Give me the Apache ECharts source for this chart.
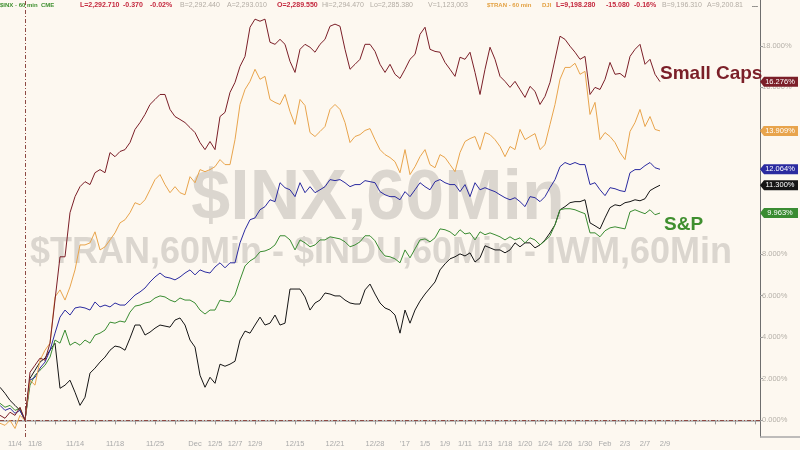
<!DOCTYPE html>
<html>
<head>
<meta charset="utf-8">
<script src="https://cdn.jsdelivr.net/npm/echarts@6/dist/echarts.min.js"></script>
<style>html,body{margin:0;padding:0;background:#fdf8f0;}#c{width:800px;height:450px;}</style>
</head>
<body>
<div id="c"></div>
<script>
// ---- data (percent change vs base bar, hourly bars) ----
var iwm = [
0.24,0.10,0.39,0.24,0.63,0.00,2.31,2.65,2.99,2.89,
3.71,5.78,7.86,7.86,9.98,10.75,11.23,11.47,11.33,11.90,
12.05,11.90,12.87,12.67,12.92,13.01,13.35,13.98,14.31,14.70,
15.18,15.42,15.66,15.66,14.94,14.60,14.46,14.31,14.07,13.83,
13.35,13.01,13.40,13.01,14.60,14.80,15.76,16.24,17.01,17.49,
18.89,19.28,19.18,19.28,18.17,18.07,18.31,18.07,17.25,16.72,
17.83,18.07,17.93,17.69,18.07,18.31,18.94,19.04,18.94,17.83,
16.87,17.11,17.35,18.07,18.07,17.73,17.11,16.72,17.11,16.63,
16.43,16.87,17.35,17.59,18.55,18.89,17.83,17.73,17.69,17.20,
16.87,16.53,17.45,17.35,17.69,16.72,15.66,16.87,17.93,17.35,
16.53,16.29,16.00,16.29,15.90,15.52,16.05,15.81,15.18,15.57,
16.24,17.35,18.46,18.31,17.98,17.69,17.35,17.49,15.66,16.00,
15.90,16.39,17.20,16.63,16.67,16.48,17.49,17.83,18.07,17.11,
17.35,16.63,16.276];
var tran = [
-0.14,-0.24,0.00,-0.39,0.24,0.00,1.93,1.69,2.89,3.37,
3.71,5.93,6.27,5.78,6.41,7.23,8.43,8.43,8.53,9.06,
8.19,8.34,8.67,9.01,9.49,9.64,9.98,10.46,10.36,10.60,
11.08,11.57,11.81,11.33,10.94,11.23,10.94,10.84,11.71,11.42,
12.05,11.95,12.05,12.19,12.53,12.29,12.29,13.49,15.18,15.90,
16.29,16.87,16.39,16.53,15.42,15.28,15.18,15.66,14.84,14.22,
15.42,15.13,13.83,13.64,13.88,14.12,14.94,15.18,14.94,14.31,
13.35,13.64,13.73,13.93,14.02,13.49,13.01,12.77,12.63,12.43,
11.90,13.01,11.81,12.19,12.67,13.01,12.29,12.14,12.77,12.63,
12.29,11.95,12.87,13.40,13.54,13.64,13.01,13.83,13.73,13.49,
13.16,12.67,13.16,13.01,13.98,13.49,13.64,13.78,13.01,13.25,
14.22,15.18,16.39,16.96,16.96,17.16,16.63,16.77,14.70,15.28,
13.49,13.83,13.64,13.35,12.87,12.53,13.88,14.31,14.94,14.12,
14.60,13.98,13.909];
var indu = [
0.72,0.48,0.58,0.34,0.48,0.00,1.93,2.07,2.51,2.80,
3.37,4.19,4.96,5.30,5.06,5.40,5.45,5.40,5.30,5.69,
5.45,5.54,5.45,5.64,5.54,5.54,5.78,6.02,6.17,6.36,
6.65,6.89,7.08,6.89,6.84,6.75,6.89,7.08,7.23,6.99,
7.23,7.13,7.08,7.37,7.57,7.33,7.57,7.57,8.53,9.16,
9.64,9.73,10.12,10.27,10.60,10.51,11.42,11.18,11.08,10.75,
11.42,10.94,11.23,10.94,11.08,11.23,11.57,11.52,11.57,11.42,
11.23,11.33,11.33,11.52,11.47,11.42,10.99,10.84,10.75,10.75,
10.60,10.99,10.75,11.08,11.42,11.23,11.08,11.47,11.57,11.42,
11.33,11.33,10.99,11.33,10.75,11.42,11.08,11.18,11.08,10.99,
10.84,10.70,10.60,10.70,10.51,10.27,10.75,10.70,10.51,10.75,
11.18,11.57,12.19,12.39,12.29,12.39,12.29,12.29,11.33,11.42,
11.08,10.80,11.18,11.13,11.04,10.99,11.90,12.05,12.05,12.24,
12.39,12.14,12.064];
var compq = [
1.59,1.30,0.96,0.72,0.48,0.00,2.02,2.41,2.80,2.99,
3.37,3.71,1.54,1.69,1.93,1.35,0.72,1.11,2.27,2.51,
2.80,3.04,3.37,3.57,3.52,3.37,3.95,4.58,4.58,4.10,
4.24,4.43,4.58,4.53,4.48,4.82,4.92,4.58,3.86,3.52,
2.17,1.59,2.07,1.78,2.70,2.60,2.70,2.84,3.86,4.29,
4.19,4.58,4.96,4.58,4.67,5.06,4.58,4.67,6.31,6.31,
6.31,5.93,5.30,5.64,5.78,6.12,6.07,5.98,5.98,5.78,
5.64,5.59,5.59,6.27,6.55,6.07,5.64,5.40,5.30,5.06,
4.19,5.30,4.67,5.30,5.73,6.07,6.36,6.65,7.23,7.52,
7.76,7.86,8.00,7.90,8.05,7.61,7.81,8.39,8.29,8.19,
8.19,8.05,8.19,8.53,8.34,8.53,8.53,8.29,8.43,8.67,
9.01,9.40,10.12,10.27,10.46,10.51,10.51,10.60,9.49,9.35,
9.20,9.73,10.22,10.36,10.31,10.46,10.51,10.60,10.55,10.65,
11.04,11.18,11.300];
var spx = [
0.82,0.63,0.72,0.48,0.58,0.00,1.69,2.17,2.41,2.65,
3.04,3.86,3.71,4.34,3.61,3.76,3.61,3.86,3.71,4.10,
4.19,4.34,4.72,4.67,4.77,4.72,5.20,5.49,5.54,5.64,
5.69,5.88,5.98,5.93,5.78,5.69,5.88,5.78,5.78,5.64,
5.30,5.11,5.30,5.30,5.78,5.73,5.69,6.02,6.75,7.42,
7.66,7.81,8.10,8.14,8.24,8.43,8.87,8.87,8.67,8.19,
8.67,8.53,8.34,8.43,8.67,8.67,8.82,8.77,8.72,8.58,
8.34,8.43,8.58,8.87,8.87,8.63,8.19,7.90,7.86,7.76,
7.57,8.19,7.81,8.24,8.67,8.72,8.58,8.77,9.20,9.16,
9.06,8.87,9.16,8.96,9.01,8.67,9.06,8.92,9.01,8.92,
8.82,8.67,8.82,8.67,8.77,8.53,8.77,8.67,8.43,8.63,
8.87,9.40,10.12,10.17,10.17,10.12,10.02,9.93,9.01,9.01,
8.82,9.11,9.25,9.30,9.25,9.20,10.02,10.12,10.02,9.93,
10.12,9.88,9.963];

var seriesNames = ['$COMPQ', '$INX', '$INDU', '$TRAN', 'IWM'];
var lastValues = [11.300, 9.963, 12.064, 13.909, 16.276];

// x axis: hourly bar slots; date labels at given bar slots
var slotCount = 153;
var baseSlot = 5;
var xTickLabels = ['11/4','11/8','11/14','11/18','11/25','Dec','12/5','12/7','12/9','12/15','12/21','12/28',"'17",
  '1/5','1/9','1/11','1/13','1/18','1/20','1/24','1/26','1/30','Feb','2/3','2/7','2/9'];
var xTickSlots = [3,7,15,23,31,39,43,47,51,59,67,75,81,85,89,93,97,101,105,109,113,117,121,125,129,133];
var yTickValues = [0,2,4,6,8,10,12,14,16,18];

var categories = [];
for (var i = 0; i < slotCount; i++) categories.push(String(i));
var labelAt = {};
xTickSlots.forEach(function (s, k) { labelAt[s] = xTickLabels[k]; });

var colors = ['#151515', '#3a8c32', '#2b2ba0', '#e8a44c', '#7b1f28'];
var dataSets = [compq, spx, indu, tran, iwm];

var FONT = '"Liberation Sans", Arial, sans-serif';
var series = dataSets.map(function (d, k) {
  var s = {
    name: seriesNames[k],
    type: 'line',
    data: d,
    showSymbol: false,
    symbol: 'none',
    lineStyle: { width: 1, color: colors[k] },
    itemStyle: { color: colors[k] },
    z: 3 + k,
    animation: false,
    markPoint: {
      symbol: 'path://M0,5 L4,0 L38,0 L38,10 L4,10 Z',
      symbolSize: [38, 10],
      symbolKeepAspect: false,
      symbolOffset: [19, 0],
      silent: true,
      animation: false,
      itemStyle: { color: colors[k] },
      label: {
        show: true, position: 'inside', color: '#fff', fontSize: 7.5,
        fontFamily: FONT, offset: [1, 0],
        formatter: function (p) { return p.value.toFixed(3) + '%'; }
      },
      data: [{ coord: [slotCount - 1, lastValues[k]], value: lastValues[k] }]
    }
  };
  if (k === 0) {
    s.markLine = {
      silent: true, animation: false, symbol: ['none', 'none'],
      label: { show: false },
      lineStyle: { color: '#8e4a44', width: 1, type: [4, 2, 1, 2] },
      data: [{ xAxis: String(baseSlot) }, { yAxis: 0 }]
    };
  }
  return s;
});

var header = [
  ['$INX - 60 min', 0, '#3f8f2f', 'bold', 6], ['CME', 41, '#3f8f2f', 'bold', 6],
  ['L=2,292.710', 80, '#c4283e', 'bold', 7], ['-0.370', 123, '#c4283e', 'bold', 7], ['-0.02%', 150, '#c4283e', 'bold', 7],
  ['B=2,292.440', 180, '#b3aca4', 'normal', 7], ['A=2,293.010', 227, '#b3aca4', 'normal', 7],
  ['O=2,289.550', 277, '#c4283e', 'bold', 7], ['Hi=2,294.470', 322, '#b3aca4', 'normal', 7],
  ['Lo=2,285.380', 370, '#b3aca4', 'normal', 7], ['V=1,123,003', 428, '#b3aca4', 'normal', 7],
  ['$TRAN - 60 min', 487, '#e3a142', 'bold', 6], ['DJI', 542, '#e3a142', 'bold', 6],
  ['L=9,198.280', 556, '#c4283e', 'bold', 7], ['-15.080', 606, '#c4283e', 'bold', 7], ['-0.16%', 634, '#c4283e', 'bold', 7],
  ['B=9,196.310', 662, '#b3aca4', 'normal', 7], ['A=9,200.81', 707, '#b3aca4', 'normal', 7], ['...', 752, '#333', 'bold', 7]
];
var graphics = [
  { type: 'text', z: -10, style: { x: 378, y: 200, text: '$INX,60Min', textAlign: 'center', textVerticalAlign: 'middle',
      font: 'bold 70px ' + FONT, fill: '#dbd6cf' } },
  { type: 'text', z: -10, style: { x: 381, y: 253, text: '$TRAN,60Min - $INDU,60Min - IWM,60Min', textAlign: 'center', textVerticalAlign: 'middle',
      font: 'bold 36px ' + FONT, fill: '#dbd6cf' } },
  { type: 'text', z: 50, style: { x: 660, y: 74, text: 'Small Caps', textVerticalAlign: 'middle',
      font: 'bold 19px ' + FONT, fill: '#7b1f28' } },
  { type: 'text', z: 50, style: { x: 664, y: 225, text: 'S&P', textVerticalAlign: 'middle',
      font: 'bold 19px ' + FONT, fill: '#3f8f2f' } },
  { type: 'line', z: 1, shape: { x1: 760, y1: 437, x2: 800, y2: 437 }, style: { stroke: '#a8a8a8', lineWidth: 1.5 } }
];
header.forEach(function (h) {
  graphics.push({ type: 'text', z: 60, style: { x: h[1], y: 5, text: h[0], textVerticalAlign: 'middle',
    font: h[3] + ' ' + h[4] + 'px ' + FONT, fill: h[2] } });
});

var chart = echarts.init(document.getElementById('c'), null, { renderer: 'canvas' });
chart.setOption({
  backgroundColor: '#fdf8f0',
  animation: false,
  grid: { left: 0, right: 40, top: 0, bottom: 13, containLabel: false },
  xAxis: {
    type: 'category', data: categories, boundaryGap: false,
    axisLine: { show: true, lineStyle: { color: '#a8a8a8', width: 1.5 } },
    axisTick: { show: true, length: 4, lineStyle: { color: '#999' },
      interval: function (i) { return i % 4 === 3 || labelAt[i] !== undefined; } },
    axisLabel: { show: true, color: '#a9a9a9', fontSize: 7.5, fontFamily: FONT, margin: 3,
      interval: function (i) { return labelAt[i] !== undefined; },
      formatter: function (v, i) { return labelAt[i] || ''; } },
    splitLine: { show: false }
  },
  yAxis: {
    type: 'value', position: 'right', min: -0.8, max: 20.2,
    axisLine: { show: true, lineStyle: { color: '#6e6e6e', width: 1 } },
    axisTick: { show: true, length: 3, customValues: yTickValues, lineStyle: { color: '#999' } },
    axisLabel: { show: true, customValues: yTickValues, color: '#b5b0a8', fontSize: 7.5, fontFamily: FONT, margin: 2,
      formatter: function (v) { return v.toFixed(3) + '%'; } },
    splitLine: { show: false }
  },
  graphic: graphics,
  series: series
});
</script>
</body>
</html>
